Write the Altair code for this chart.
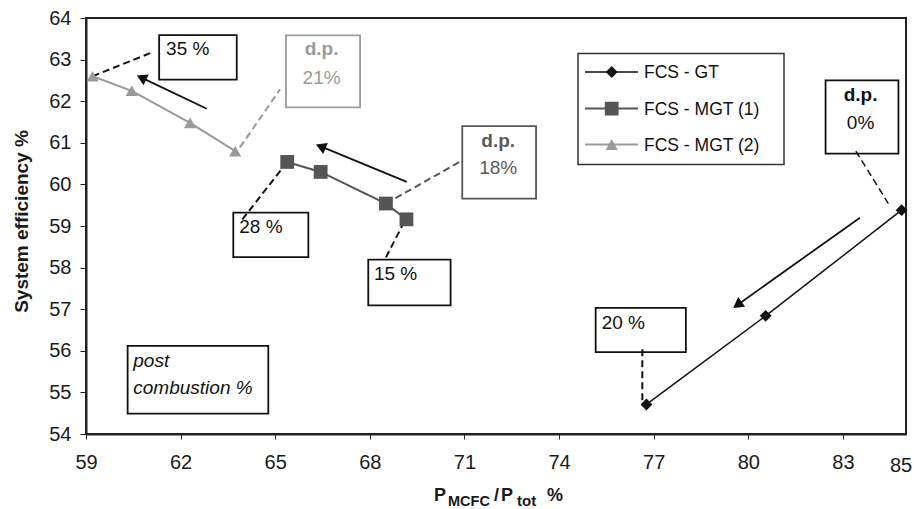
import math
import altair as alt
import pandas as pd

FONT = "Liberation Sans"

# ---------------- data ----------------
series_names = ["FCS - GT", "FCS - MGT (1)", "FCS - MGT (2)"]
series_colors = ["#111111", "#555555", "#9a9a9a"]
series_shapes = ["diamond", "square", "triangle-up"]
series_sizes = [140, 190, 150]
series_widths = [1.5, 2.0, 2.0]

gt_x = [76.77, 80.55, 84.86]
gt_y = [54.71, 56.84, 59.38]
mgt1_x = [65.38, 66.44, 68.51, 69.16]
mgt1_y = [60.54, 60.30, 59.54, 59.16]
mgt2_x = [59.21, 60.45, 62.30, 63.73]
mgt2_y = [62.60, 62.25, 61.48, 60.80]

x_ticks = [59, 62, 65, 68, 71, 74, 77, 80, 83]
x_end_label = ["85"]
y_ticks = [54, 55, 56, 57, 58, 59, 60, 61, 62, 63, 64]
x_domain = [59, 85]
y_domain = [54, 64]

# annotation boxes (data units)
box_x1 = [61.32, 65.34, 63.67, 70.93, 67.95, 82.45, 75.16, 60.32]
box_x2 = [63.78, 67.69, 66.05, 73.27, 70.56, 84.76, 78.02, 64.78]
box_y1 = [63.59, 63.58, 59.32, 61.40, 58.19, 62.50, 57.03, 56.12]
box_y2 = [62.52, 61.85, 58.25, 59.66, 57.09, 60.74, 55.97, 54.49]
box_stroke = ["#111111", "#9a9a9a", "#111111", "#555555", "#111111", "#111111", "#111111", "#111111"]

# plain labels (left aligned)
plain_text = ["35 %", "28 %", "15 %", "20 %"]
plain_x = [61.54, 63.86, 68.13, 75.35]
plain_y = [63.10, 58.84, 57.71, 56.52]

# design point labels (centred)
dp_head = ["d.p.", "d.p.", "d.p."]
dp_value = ["21%", "18%", "0%"]
dp_x = [66.47, 72.07, 83.56]
dp_head_y = [63.10, 60.90, 62.00]
dp_value_y = [62.42, 60.24, 61.34]
dp_color = ["#9a9a9a", "#5a5a5a", "#111111"]

# italic note
note_text = ["post", "combustion %"]
note_x = [60.50, 60.50]
note_y = [55.61, 54.95]

# dashed leader lines
lead_x1 = [59.21, 63.88, 65.38, 68.51, 69.09, 83.41, 76.64]
lead_y1 = [62.60, 60.89, 60.54, 59.54, 59.10, 60.80, 56.04]
lead_x2 = [61.08, 65.15, 63.94, 70.94, 68.48, 84.44, 76.64]
lead_y2 = [63.17, 62.28, 59.14, 60.58, 58.20, 59.54, 54.81]
lead_color = ["#111111", "#9a9a9a", "#111111", "#555555", "#111111", "#111111", "#111111"]
lead_width = [2.0, 2.0, 2.0, 2.0, 2.0, 1.5, 2.0]

# arrows (tail -> head)
arr_x1 = [62.83, 69.17, 83.54]
arr_y1 = [61.82, 60.06, 59.20]
arr_x2 = [60.61, 66.29, 79.52]
arr_y2 = [62.62, 60.96, 57.03]

# ---------------- layout ----------------
W, H = 820, 416
PX_X = W / (x_domain[1] - x_domain[0])
PX_Y = H / (y_domain[1] - y_domain[0])

xs = alt.Scale(domain=x_domain, nice=False, zero=False)
ys = alt.Scale(domain=y_domain, nice=False, zero=False)

rows = []
for name, col, shp, sz, sw, X, Y in zip(
    series_names, series_colors, series_shapes, series_sizes, series_widths,
    [gt_x, mgt1_x, mgt2_x], [gt_y, mgt1_y, mgt2_y]):
    for a, b in zip(X, Y):
        rows.append(dict(series=name, x=a, y=b, color=col, shape=shp, size=sz, sw=sw))
df = pd.DataFrame(rows)

xenc = alt.X("x:Q", scale=xs, axis=alt.Axis(
    values=x_ticks, title=None, grid=False, labelFontSize=20, labelFont=FONT,
    labelColor="#1a1a1a", tickSize=5, tickColor="#222", labelPadding=13,
    domainColor="#222", domainWidth=2, labelFlush=False))
yenc = alt.Y("y:Q", scale=ys, axis=alt.Axis(
    values=y_ticks, title="System efficiency %", grid=False, labelFontSize=20,
    labelFont=FONT, labelColor="#1a1a1a", tickSize=6, tickColor="#222",
    labelPadding=9, domainColor="#222", domainWidth=2, labelFlush=False,
    titleFont=FONT, titleFontSize=19, titleFontWeight="bold", titleColor="#1a1a1a",
    titleAngle=270, titleX=-65, titleY=203, titleAlign="center",
    titleBaseline="middle"))

lines = alt.Chart(df).mark_line().encode(
    x=xenc, y=yenc, detail="series:N",
    color=alt.Color("color:N", scale=None),
    strokeWidth=alt.StrokeWidth("sw:Q", scale=None))

points = alt.Chart(df).mark_point(filled=True, opacity=1).encode(
    x=alt.X("x:Q", scale=xs), y=alt.Y("y:Q", scale=ys),
    color=alt.Color("color:N", scale=None),
    shape=alt.Shape("shape:N", scale=None),
    size=alt.Size("size:Q", scale=None))

boxes_df = pd.DataFrame(dict(x1=box_x1, x2=box_x2, y1=box_y1, y2=box_y2, c=box_stroke))
boxes = alt.Chart(boxes_df).mark_rect(fill="white", strokeWidth=1.8).encode(
    x=alt.X("x1:Q", scale=xs), x2="x2:Q", y=alt.Y("y1:Q", scale=ys), y2="y2:Q",
    stroke=alt.Stroke("c:N", scale=None))

lead_df = pd.DataFrame(dict(x1=lead_x1, y1=lead_y1, x2=lead_x2, y2=lead_y2,
                            c=lead_color, w=lead_width))
leads = alt.Chart(lead_df).mark_rule(strokeDash=[7, 4]).encode(
    x=alt.X("x1:Q", scale=xs), y=alt.Y("y1:Q", scale=ys), x2="x2:Q", y2="y2:Q",
    color=alt.Color("c:N", scale=None),
    strokeWidth=alt.StrokeWidth("w:Q", scale=None))

# arrows
HEAD_SIZE = 144
head_r = math.sqrt(HEAD_SIZE) / 2
arr_rows = []
for a1, b1, a2, b2 in zip(arr_x1, arr_y1, arr_x2, arr_y2):
    dxp = (a2 - a1) * PX_X
    dyp = -(b2 - b1) * PX_Y
    L = math.hypot(dxp, dyp)
    ang = math.degrees(math.atan2(dxp, -dyp)) % 360
    back = head_r * math.sqrt(3) / 2
    hx = a2 - (dxp / L) * back / PX_X
    hy = b2 + (dyp / L) * back / PX_Y
    arr_rows.append(dict(x1=a1, y1=b1, x2=hx, y2=hy, hx=hx, hy=hy, ang=ang))
arr_df = pd.DataFrame(arr_rows)
arr_lines = alt.Chart(arr_df).mark_rule(color="#111", strokeWidth=1.8).encode(
    x=alt.X("x1:Q", scale=xs), y=alt.Y("y1:Q", scale=ys), x2="x2:Q", y2="y2:Q")
arr_heads = alt.Chart(arr_df).mark_point(shape="triangle-up", filled=True, color="#111",
                                          size=HEAD_SIZE, opacity=1).encode(
    x=alt.X("hx:Q", scale=xs), y=alt.Y("hy:Q", scale=ys),
    angle=alt.Angle("ang:Q", scale=None))

plain_df = pd.DataFrame(dict(t=plain_text, x=plain_x, y=plain_y))
plain = alt.Chart(plain_df).mark_text(align="left", baseline="alphabetic", font=FONT,
                                      fontSize=19, color="#111").encode(
    x=alt.X("x:Q", scale=xs), y=alt.Y("y:Q", scale=ys), text="t:N")

dp_df = pd.DataFrame(dict(h=dp_head, v=dp_value, x=dp_x, hy=dp_head_y, vy=dp_value_y, c=dp_color))
dp_h = alt.Chart(dp_df).mark_text(align="center", baseline="alphabetic", font=FONT,
                                  fontSize=19, fontWeight="bold").encode(
    x=alt.X("x:Q", scale=xs), y=alt.Y("hy:Q", scale=ys), text="h:N",
    color=alt.Color("c:N", scale=None))
dp_v = alt.Chart(dp_df).mark_text(align="center", baseline="alphabetic", font=FONT,
                                  fontSize=19).encode(
    x=alt.X("x:Q", scale=xs), y=alt.Y("vy:Q", scale=ys), text="v:N",
    color=alt.Color("c:N", scale=None))

note_df = pd.DataFrame(dict(t=note_text, x=note_x, y=note_y))
note = alt.Chart(note_df).mark_text(align="left", baseline="alphabetic", font=FONT,
                                    fontSize=19, fontStyle="italic", color="#111").encode(
    x=alt.X("x:Q", scale=xs), y=alt.Y("y:Q", scale=ys), text="t:N")

end_df = pd.DataFrame(dict(t=x_end_label, x=[x_domain[1]], y=[y_domain[0]]))
end_lab = alt.Chart(end_df).mark_text(align="center", baseline="alphabetic", font=FONT,
                                      fontSize=20, color="#1a1a1a", dx=-5, dy=38).encode(
    x=alt.X("x:Q", scale=xs), y=alt.Y("y:Q", scale=ys), text="t:N")

one = pd.DataFrame({"a": [0]})

# legend
leg = [alt.Chart(one).mark_rect(fill="white", stroke="#333", strokeWidth=1.5).encode(
    x=alt.value(492), x2=alt.value(698), y=alt.value(35.5), y2=alt.value(146.5))]
leg_rows_y = [54, 90.6, 126.6]
for name, col, shp, sz, sw, ry in zip(series_names, series_colors, series_shapes,
                                      series_sizes, series_widths, leg_rows_y):
    leg.append(alt.Chart(one).mark_rule(color=col, strokeWidth=sw).encode(
        x=alt.value(499), x2=alt.value(552), y=alt.value(ry)))
    leg.append(alt.Chart(one).mark_point(shape=shp, filled=True, color=col, size=sz,
                                         opacity=1).encode(
        x=alt.value(525.7), y=alt.value(ry)))
    leg.append(alt.Chart(one).mark_text(text=name, align="left", baseline="middle",
                                        font=FONT, fontSize=17.5, color="#111").encode(
        x=alt.value(558), y=alt.value(ry + 1)))

# x-axis title with subscripts
xt_parts = [("P", 348, 483, 18), ("MCFC", 362, 488, 14.5), ("/", 408, 483, 18),
            ("P", 415, 483, 18), ("tot", 431, 488, 15), ("%", 461, 483, 18)]
xt = []
for t, px, py, fs in xt_parts:
    xt.append(alt.Chart(one).mark_text(text=t, align="left", baseline="alphabetic",
                                       font=FONT, fontSize=fs, fontWeight="bold",
                                       color="#1a1a1a").encode(
        x=alt.value(px), y=alt.value(py)))

chart = alt.layer(
    boxes, leads, arr_lines, arr_heads, lines, points,
    plain, dp_h, dp_v, note, end_lab, *leg, *xt
).properties(
    width=W, height=H,
    autosize=alt.AutoSizeParams(type="none"),
    padding={"left": 86, "top": 18, "right": 8, "bottom": 75},
    background="white",
).configure_view(stroke="#222", strokeWidth=2)

chart.save("out.html", embed_options={"renderer": "svg", "actions": False})
